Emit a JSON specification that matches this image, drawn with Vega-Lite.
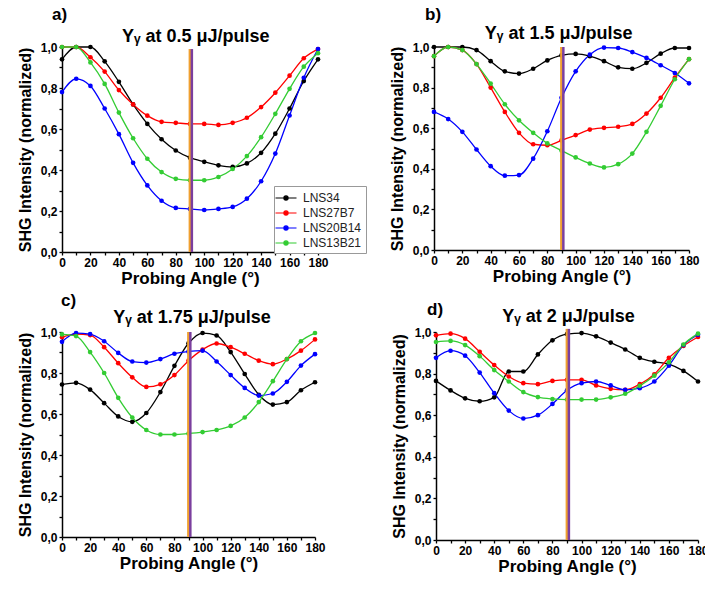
{
  "$schema": "https://vega.github.io/schema/vega-lite/v6.json",
  "background": "white",
  "padding": {"left": 17, "top": 6, "right": 5, "bottom": 5},
  "spacing": 5,
  "resolve": {"scale": {"color": "independent"}, "legend": {"color": "independent"}},
  "config": {
    "view": {"stroke": null},
    "font": "Liberation Sans",
    "axis": {"grid": false, "domainColor": "black", "domainWidth": 1.5, "tickColor": "black", "tickWidth": 1.3, "tickSize": 3, "labelFontSize": 12, "labelFontWeight": "bold", "labelColor": "black", "labelOverlap": false, "labelFlush": false, "labelPadding": 2, "titleFontSize": 16, "titleFontWeight": "bold", "titleColor": "black", "labelFont": "Liberation Sans", "titleFont": "Liberation Sans"},
    "axisY": {"labelExpr": "round(datum.value*10)%2==0 ? replace(format(datum.value,'.1f'),'.',',') : ''", "tickCount": 10, "titlePadding": 7},
    "axisX": {"tickCount": 18, "labelExpr": "round(datum.value)%20==0 ? datum.label : ''", "titleFontSize": 17, "titlePadding": 2},
    "title": {"fontSize": 17, "fontWeight": "bold", "font": "Liberation Sans", "color": "black", "anchor": "start", "frame": "group"}
  },
  "datasets": {
    "d": [
      {"p":"a","angle":0,"LNS34":0.94,"LNS27B7":1.0,"LNS20B14":0.78,"LNS13B21":1.0},
      {"p":"a","angle":10,"LNS34":1.0,"LNS27B7":1.0,"LNS20B14":0.845,"LNS13B21":1.0},
      {"p":"a","angle":20,"LNS34":1.0,"LNS27B7":0.95,"LNS20B14":0.81,"LNS13B21":0.925},
      {"p":"a","angle":30,"LNS34":0.93,"LNS27B7":0.88,"LNS20B14":0.70,"LNS13B21":0.82},
      {"p":"a","angle":40,"LNS34":0.83,"LNS27B7":0.79,"LNS20B14":0.575,"LNS13B21":0.68},
      {"p":"a","angle":50,"LNS34":0.72,"LNS27B7":0.72,"LNS20B14":0.435,"LNS13B21":0.555},
      {"p":"a","angle":60,"LNS34":0.625,"LNS27B7":0.665,"LNS20B14":0.325,"LNS13B21":0.455},
      {"p":"a","angle":70,"LNS34":0.55,"LNS27B7":0.635,"LNS20B14":0.25,"LNS13B21":0.39},
      {"p":"a","angle":80,"LNS34":0.495,"LNS27B7":0.63,"LNS20B14":0.215,"LNS13B21":0.357},
      {"p":"a","angle":90,"LNS34":0.46,"LNS27B7":0.625,"LNS20B14":0.21,"LNS13B21":0.35},
      {"p":"a","angle":100,"LNS34":0.44,"LNS27B7":0.625,"LNS20B14":0.205,"LNS13B21":0.35},
      {"p":"a","angle":110,"LNS34":0.423,"LNS27B7":0.62,"LNS20B14":0.21,"LNS13B21":0.366},
      {"p":"a","angle":120,"LNS34":0.415,"LNS27B7":0.63,"LNS20B14":0.22,"LNS13B21":0.405},
      {"p":"a","angle":130,"LNS34":0.432,"LNS27B7":0.655,"LNS20B14":0.26,"LNS13B21":0.468},
      {"p":"a","angle":140,"LNS34":0.484,"LNS27B7":0.707,"LNS20B14":0.345,"LNS13B21":0.56},
      {"p":"a","angle":150,"LNS34":0.577,"LNS27B7":0.777,"LNS20B14":0.48,"LNS13B21":0.674},
      {"p":"a","angle":160,"LNS34":0.70,"LNS27B7":0.86,"LNS20B14":0.666,"LNS13B21":0.796},
      {"p":"a","angle":170,"LNS34":0.834,"LNS27B7":0.945,"LNS20B14":0.85,"LNS13B21":0.904},
      {"p":"a","angle":180,"LNS34":0.94,"LNS27B7":0.99,"LNS20B14":0.99,"LNS13B21":0.97},
      {"p":"b","angle":0,"LNS34":1.0,"LNS27B7":0.955,"LNS20B14":0.68,"LNS13B21":0.955},
      {"p":"b","angle":10,"LNS34":1.0,"LNS27B7":1.0,"LNS20B14":0.645,"LNS13B21":1.0},
      {"p":"b","angle":20,"LNS34":1.0,"LNS27B7":0.985,"LNS20B14":0.582,"LNS13B21":0.985},
      {"p":"b","angle":30,"LNS34":0.985,"LNS27B7":0.916,"LNS20B14":0.495,"LNS13B21":0.916},
      {"p":"b","angle":40,"LNS34":0.93,"LNS27B7":0.80,"LNS20B14":0.413,"LNS13B21":0.82},
      {"p":"b","angle":50,"LNS34":0.88,"LNS27B7":0.68,"LNS20B14":0.366,"LNS13B21":0.718},
      {"p":"b","angle":60,"LNS34":0.869,"LNS27B7":0.577,"LNS20B14":0.369,"LNS13B21":0.639},
      {"p":"b","angle":70,"LNS34":0.893,"LNS27B7":0.521,"LNS20B14":0.45,"LNS13B21":0.577},
      {"p":"b","angle":80,"LNS34":0.934,"LNS27B7":0.516,"LNS20B14":0.585,"LNS13B21":0.525},
      {"p":"b","angle":90,"LNS34":0.959,"LNS27B7":0.54,"LNS20B14":0.75,"LNS13B21":0.49},
      {"p":"b","angle":100,"LNS34":0.966,"LNS27B7":0.566,"LNS20B14":0.88,"LNS13B21":0.456},
      {"p":"b","angle":110,"LNS34":0.955,"LNS27B7":0.593,"LNS20B14":0.962,"LNS13B21":0.426},
      {"p":"b","angle":120,"LNS34":0.93,"LNS27B7":0.602,"LNS20B14":0.997,"LNS13B21":0.407},
      {"p":"b","angle":130,"LNS34":0.90,"LNS27B7":0.607,"LNS20B14":0.995,"LNS13B21":0.423},
      {"p":"b","angle":140,"LNS34":0.893,"LNS27B7":0.621,"LNS20B14":0.975,"LNS13B21":0.475},
      {"p":"b","angle":150,"LNS34":0.922,"LNS27B7":0.672,"LNS20B14":0.946,"LNS13B21":0.582},
      {"p":"b","angle":160,"LNS34":0.967,"LNS27B7":0.75,"LNS20B14":0.91,"LNS13B21":0.71},
      {"p":"b","angle":170,"LNS34":0.995,"LNS27B7":0.849,"LNS20B14":0.872,"LNS13B21":0.841},
      {"p":"b","angle":180,"LNS34":0.995,"LNS27B7":0.94,"LNS20B14":0.821,"LNS13B21":0.94},
      {"p":"c","angle":0,"LNS34":0.744,"LNS27B7":0.975,"LNS20B14":0.952,"LNS13B21":0.988},
      {"p":"c","angle":10,"LNS34":0.752,"LNS27B7":0.99,"LNS20B14":0.995,"LNS13B21":0.98},
      {"p":"c","angle":20,"LNS34":0.719,"LNS27B7":0.985,"LNS20B14":0.99,"LNS13B21":0.902},
      {"p":"c","angle":30,"LNS34":0.653,"LNS27B7":0.926,"LNS20B14":0.955,"LNS13B21":0.80},
      {"p":"c","angle":40,"LNS34":0.588,"LNS27B7":0.848,"LNS20B14":0.898,"LNS13B21":0.679},
      {"p":"c","angle":50,"LNS34":0.562,"LNS27B7":0.779,"LNS20B14":0.856,"LNS13B21":0.583},
      {"p":"c","angle":60,"LNS34":0.605,"LNS27B7":0.732,"LNS20B14":0.851,"LNS13B21":0.522},
      {"p":"c","angle":70,"LNS34":0.707,"LNS27B7":0.745,"LNS20B14":0.868,"LNS13B21":0.50},
      {"p":"c","angle":80,"LNS34":0.835,"LNS27B7":0.79,"LNS20B14":0.894,"LNS13B21":0.50},
      {"p":"c","angle":90,"LNS34":0.945,"LNS27B7":0.86,"LNS20B14":0.905,"LNS13B21":0.505},
      {"p":"c","angle":100,"LNS34":0.995,"LNS27B7":0.914,"LNS20B14":0.909,"LNS13B21":0.512},
      {"p":"c","angle":110,"LNS34":0.983,"LNS27B7":0.944,"LNS20B14":0.856,"LNS13B21":0.522},
      {"p":"c","angle":120,"LNS34":0.902,"LNS27B7":0.926,"LNS20B14":0.79,"LNS13B21":0.542},
      {"p":"c","angle":130,"LNS34":0.795,"LNS27B7":0.894,"LNS20B14":0.727,"LNS13B21":0.583},
      {"p":"c","angle":140,"LNS34":0.694,"LNS27B7":0.86,"LNS20B14":0.69,"LNS13B21":0.658},
      {"p":"c","angle":150,"LNS34":0.646,"LNS27B7":0.843,"LNS20B14":0.70,"LNS13B21":0.76},
      {"p":"c","angle":160,"LNS34":0.658,"LNS27B7":0.868,"LNS20B14":0.757,"LNS13B21":0.868},
      {"p":"c","angle":170,"LNS34":0.716,"LNS27B7":0.909,"LNS20B14":0.836,"LNS13B21":0.955},
      {"p":"c","angle":180,"LNS34":0.755,"LNS27B7":0.964,"LNS20B14":0.892,"LNS13B21":0.995},
      {"p":"d","angle":0,"LNS34":0.765,"LNS27B7":0.984,"LNS20B14":0.876,"LNS13B21":0.952},
      {"p":"d","angle":10,"LNS34":0.719,"LNS27B7":0.992,"LNS20B14":0.91,"LNS13B21":0.957},
      {"p":"d","angle":20,"LNS34":0.681,"LNS27B7":0.968,"LNS20B14":0.886,"LNS13B21":0.937},
      {"p":"d","angle":30,"LNS34":0.667,"LNS27B7":0.905,"LNS20B14":0.805,"LNS13B21":0.884},
      {"p":"d","angle":40,"LNS34":0.686,"LNS27B7":0.841,"LNS20B14":0.706,"LNS13B21":0.817},
      {"p":"d","angle":50,"LNS34":0.81,"LNS27B7":0.786,"LNS20B14":0.622,"LNS13B21":0.762},
      {"p":"d","angle":60,"LNS34":0.81,"LNS27B7":0.754,"LNS20B14":0.584,"LNS13B21":0.711},
      {"p":"d","angle":70,"LNS34":0.892,"LNS27B7":0.749,"LNS20B14":0.60,"LNS13B21":0.687},
      {"p":"d","angle":80,"LNS34":0.96,"LNS27B7":0.765,"LNS20B14":0.654,"LNS13B21":0.678},
      {"p":"d","angle":90,"LNS34":0.99,"LNS27B7":0.77,"LNS20B14":0.72,"LNS13B21":0.675},
      {"p":"d","angle":100,"LNS34":0.995,"LNS27B7":0.77,"LNS20B14":0.754,"LNS13B21":0.675},
      {"p":"d","angle":110,"LNS34":0.979,"LNS27B7":0.743,"LNS20B14":0.762,"LNS13B21":0.675},
      {"p":"d","angle":120,"LNS34":0.949,"LNS27B7":0.727,"LNS20B14":0.743,"LNS13B21":0.686},
      {"p":"d","angle":130,"LNS34":0.916,"LNS27B7":0.722,"LNS20B14":0.722,"LNS13B21":0.703},
      {"p":"d","angle":140,"LNS34":0.876,"LNS27B7":0.749,"LNS20B14":0.73,"LNS13B21":0.741},
      {"p":"d","angle":150,"LNS34":0.857,"LNS27B7":0.797,"LNS20B14":0.762,"LNS13B21":0.79},
      {"p":"d","angle":160,"LNS34":0.846,"LNS27B7":0.876,"LNS20B14":0.838,"LNS13B21":0.854},
      {"p":"d","angle":170,"LNS34":0.813,"LNS27B7":0.933,"LNS20B14":0.937,"LNS13B21":0.94},
      {"p":"d","angle":180,"LNS34":0.762,"LNS27B7":0.976,"LNS20B14":0.987,"LNS13B21":0.992}
    ]
  },
  "vconcat": [
    {
      "hconcat": [
        {
          "width": 256, "height": 205,
          "title": {"text": "a)", "dx": -10, "offset": 4},
          "layer": [
            {
              "data": {"name": "d"},
              "transform": [{"filter": "datum.p == 'a'"}, {"fold": ["LNS34","LNS27B7","LNS20B14","LNS13B21"], "as": ["series","value"]}],
              "mark": {"type": "line", "interpolate": "monotone", "strokeWidth": 1.3},
              "encoding": {
                "x": {"field": "angle", "type": "quantitative", "scale": {"domain": [0,180], "nice": false}, "title": "Probing Angle (°)"},
                "y": {"field": "value", "type": "quantitative", "scale": {"domain": [0,1], "nice": false}, "title": "SHG Intensity (normalized)"},
                "color": {"field": "series", "type": "nominal", "sort": null, "scale": {"domain": ["LNS34","LNS27B7","LNS20B14","LNS13B21"], "range": ["#000000","#FF0000","#0000FF","#33CC33"]},
                  "legend": {"orient": "none", "legendX": 212, "legendY": 139, "title": null, "fillColor": "white", "strokeColor": "#999999", "padding": 4, "labelFontSize": 12, "labelFont": "Liberation Sans", "labelColor": "#222222", "symbolType": "M-1.5,0H1.5M0.3,0A0.3,0.3 0 1,1 -0.3,0A0.3,0.3 0 1,1 0.3,0Z", "symbolSize": 196, "symbolStrokeWidth": 1.2, "labelOffset": 9, "rowPadding": 1}}
              }
            },
            {
              "data": {"name": "d"},
              "transform": [{"filter": "datum.p == 'a'"}, {"fold": ["LNS34","LNS27B7","LNS20B14","LNS13B21"], "as": ["series","value"]}],
              "mark": {"type": "point", "filled": true, "size": 22, "opacity": 1},
              "encoding": {
                "x": {"field": "angle", "type": "quantitative", "scale": {"domain": [0,180], "nice": false}, "title": "Probing Angle (°)"},
                "y": {"field": "value", "type": "quantitative", "scale": {"domain": [0,1], "nice": false}, "title": "SHG Intensity (normalized)"},
                "color": {"field": "series", "type": "nominal", "sort": null, "scale": {"domain": ["LNS34","LNS27B7","LNS20B14","LNS13B21"], "range": ["#000000","#FF0000","#0000FF","#33CC33"]},
                  "legend": {"orient": "none", "legendX": 212, "legendY": 139, "title": null, "fillColor": "white", "strokeColor": "#999999", "padding": 4, "labelFontSize": 12, "labelFont": "Liberation Sans", "labelColor": "#222222", "symbolType": "M-1.5,0H1.5M0.3,0A0.3,0.3 0 1,1 -0.3,0A0.3,0.3 0 1,1 0.3,0Z", "symbolSize": 196, "symbolStrokeWidth": 1.2, "labelOffset": 9, "rowPadding": 1}}
              }
            },
            {
              "data": {"values": [{}]},
              "mark": {"type": "rule", "color": "#F0A030", "strokeWidth": 2.5},
              "encoding": {"x": {"datum": 89.9, "scale": {"domain": [0,180], "nice": false}, "title": "Probing Angle (°)"}, "y": {"datum": 0, "scale": {"domain": [0,1], "nice": false}, "title": "SHG Intensity (normalized)"}, "y2": {"datum": 0.99}}
            },
            {
              "data": {"values": [{}]},
              "mark": {"type": "rule", "color": "#7B3F9E", "strokeWidth": 2.5},
              "encoding": {"x": {"datum": 91.3, "scale": {"domain": [0,180], "nice": false}, "title": "Probing Angle (°)"}, "y": {"datum": 0, "scale": {"domain": [0,1], "nice": false}, "title": "SHG Intensity (normalized)"}, "y2": {"datum": 0.99}}
            },
            {
              "data": {"values": [{"label": "Yᵧ at 0.5 μJ/pulse"}]},
              "mark": {"type": "text", "align": "center", "baseline": "alphabetic", "fontSize": 18, "fontWeight": "bold", "font": "Liberation Sans", "color": "black"},
              "encoding": {"text": {"field": "label"}, "x": {"datum": 94, "scale": {"domain": [0,180], "nice": false}, "title": "Probing Angle (°)"}, "y": {"datum": 1.024, "scale": {"domain": [0,1], "nice": false}, "title": "SHG Intensity (normalized)"}}
            }
          ]
        },
        {
          "width": 255, "height": 203,
          "title": {"text": "b)", "dx": -9, "offset": 1},
          "layer": [
            {
              "data": {"name": "d"},
              "transform": [{"filter": "datum.p == 'b'"}, {"fold": ["LNS34","LNS27B7","LNS20B14","LNS13B21"], "as": ["series","value"]}],
              "mark": {"type": "line", "interpolate": "monotone", "strokeWidth": 1.3},
              "encoding": {
                "x": {"field": "angle", "type": "quantitative", "scale": {"domain": [0,180], "nice": false}, "title": "Probing Angle (°)"},
                "y": {"field": "value", "type": "quantitative", "scale": {"domain": [0,1], "nice": false}, "title": "SHG Intensity (normalized)"},
                "color": {"field": "series", "type": "nominal", "sort": null, "scale": {"domain": ["LNS34","LNS27B7","LNS20B14","LNS13B21"], "range": ["#000000","#FF0000","#0000FF","#33CC33"]}, "legend": null}
              }
            },
            {
              "data": {"name": "d"},
              "transform": [{"filter": "datum.p == 'b'"}, {"fold": ["LNS34","LNS27B7","LNS20B14","LNS13B21"], "as": ["series","value"]}],
              "mark": {"type": "point", "filled": true, "size": 22, "opacity": 1},
              "encoding": {
                "x": {"field": "angle", "type": "quantitative", "scale": {"domain": [0,180], "nice": false}, "title": "Probing Angle (°)"},
                "y": {"field": "value", "type": "quantitative", "scale": {"domain": [0,1], "nice": false}, "title": "SHG Intensity (normalized)"},
                "color": {"field": "series", "type": "nominal", "sort": null, "scale": {"domain": ["LNS34","LNS27B7","LNS20B14","LNS13B21"], "range": ["#000000","#FF0000","#0000FF","#33CC33"]}, "legend": null}
              }
            },
            {
              "data": {"values": [{}]},
              "mark": {"type": "rule", "color": "#F0A030", "strokeWidth": 2.5},
              "encoding": {"x": {"datum": 89.9, "scale": {"domain": [0,180], "nice": false}, "title": "Probing Angle (°)"}, "y": {"datum": 0, "scale": {"domain": [0,1], "nice": false}, "title": "SHG Intensity (normalized)"}, "y2": {"datum": 1.0}}
            },
            {
              "data": {"values": [{}]},
              "mark": {"type": "rule", "color": "#7B3F9E", "strokeWidth": 2.5},
              "encoding": {"x": {"datum": 91.3, "scale": {"domain": [0,180], "nice": false}, "title": "Probing Angle (°)"}, "y": {"datum": 0, "scale": {"domain": [0,1], "nice": false}, "title": "SHG Intensity (normalized)"}, "y2": {"datum": 1.0}}
            },
            {
              "data": {"values": [{"label": "Yᵧ at 1.5 μJ/pulse"}]},
              "mark": {"type": "text", "align": "center", "baseline": "alphabetic", "fontSize": 18, "fontWeight": "bold", "font": "Liberation Sans", "color": "black"},
              "encoding": {"text": {"field": "label"}, "x": {"datum": 88, "scale": {"domain": [0,180], "nice": false}, "title": "Probing Angle (°)"}, "y": {"datum": 1.037, "scale": {"domain": [0,1], "nice": false}, "title": "SHG Intensity (normalized)"}}
            }
          ]
        }
      ],
      "spacing": 22,
      "resolve": {"scale": {"color": "independent"}, "legend": {"color": "independent"}}
    },
    {
      "hconcat": [
        {
          "width": 253, "height": 205,
          "title": {"text": "c)", "dx": -1, "offset": -1},
          "layer": [
            {
              "data": {"name": "d"},
              "transform": [{"filter": "datum.p == 'c'"}, {"fold": ["LNS34","LNS27B7","LNS20B14","LNS13B21"], "as": ["series","value"]}],
              "mark": {"type": "line", "interpolate": "monotone", "strokeWidth": 1.3},
              "encoding": {
                "x": {"field": "angle", "type": "quantitative", "scale": {"domain": [0,180], "nice": false}, "title": "Probing Angle (°)"},
                "y": {"field": "value", "type": "quantitative", "scale": {"domain": [0,1], "nice": false}, "title": "SHG Intensity (normalized)"},
                "color": {"field": "series", "type": "nominal", "sort": null, "scale": {"domain": ["LNS34","LNS27B7","LNS20B14","LNS13B21"], "range": ["#000000","#FF0000","#0000FF","#33CC33"]}, "legend": null}
              }
            },
            {
              "data": {"name": "d"},
              "transform": [{"filter": "datum.p == 'c'"}, {"fold": ["LNS34","LNS27B7","LNS20B14","LNS13B21"], "as": ["series","value"]}],
              "mark": {"type": "point", "filled": true, "size": 22, "opacity": 1},
              "encoding": {
                "x": {"field": "angle", "type": "quantitative", "scale": {"domain": [0,180], "nice": false}, "title": "Probing Angle (°)"},
                "y": {"field": "value", "type": "quantitative", "scale": {"domain": [0,1], "nice": false}, "title": "SHG Intensity (normalized)"},
                "color": {"field": "series", "type": "nominal", "sort": null, "scale": {"domain": ["LNS34","LNS27B7","LNS20B14","LNS13B21"], "range": ["#000000","#FF0000","#0000FF","#33CC33"]}, "legend": null}
              }
            },
            {
              "data": {"values": [{}]},
              "mark": {"type": "rule", "color": "#F0A030", "strokeWidth": 2.5},
              "encoding": {"x": {"datum": 89.9, "scale": {"domain": [0,180], "nice": false}, "title": "Probing Angle (°)"}, "y": {"datum": 0, "scale": {"domain": [0,1], "nice": false}, "title": "SHG Intensity (normalized)"}, "y2": {"datum": 1.0}}
            },
            {
              "data": {"values": [{}]},
              "mark": {"type": "rule", "color": "#7B3F9E", "strokeWidth": 2.5},
              "encoding": {"x": {"datum": 91.3, "scale": {"domain": [0,180], "nice": false}, "title": "Probing Angle (°)"}, "y": {"datum": 0, "scale": {"domain": [0,1], "nice": false}, "title": "SHG Intensity (normalized)"}, "y2": {"datum": 1.0}}
            },
            {
              "data": {"values": [{"label": "Yᵧ at 1.75 μJ/pulse"}]},
              "mark": {"type": "text", "align": "center", "baseline": "alphabetic", "fontSize": 18, "fontWeight": "bold", "font": "Liberation Sans", "color": "black"},
              "encoding": {"text": {"field": "label"}, "x": {"datum": 92.5, "scale": {"domain": [0,180], "nice": false}, "title": "Probing Angle (°)"}, "y": {"datum": 1.045, "scale": {"domain": [0,1], "nice": false}, "title": "SHG Intensity (normalized)"}}
            }
          ]
        },
        {
          "width": 262, "height": 208,
          "title": {"text": "d)", "dx": -9, "offset": -11},
          "layer": [
            {
              "data": {"name": "d"},
              "transform": [{"filter": "datum.p == 'd'"}, {"fold": ["LNS34","LNS27B7","LNS20B14","LNS13B21"], "as": ["series","value"]}],
              "mark": {"type": "line", "interpolate": "monotone", "strokeWidth": 1.3},
              "encoding": {
                "x": {"field": "angle", "type": "quantitative", "scale": {"domain": [0,180], "nice": false}, "title": "Probing Angle (°)"},
                "y": {"field": "value", "type": "quantitative", "scale": {"domain": [0,1], "nice": false}, "title": "SHG Intensity (normalized)"},
                "color": {"field": "series", "type": "nominal", "sort": null, "scale": {"domain": ["LNS34","LNS27B7","LNS20B14","LNS13B21"], "range": ["#000000","#FF0000","#0000FF","#33CC33"]}, "legend": null}
              }
            },
            {
              "data": {"name": "d"},
              "transform": [{"filter": "datum.p == 'd'"}, {"fold": ["LNS34","LNS27B7","LNS20B14","LNS13B21"], "as": ["series","value"]}],
              "mark": {"type": "point", "filled": true, "size": 22, "opacity": 1},
              "encoding": {
                "x": {"field": "angle", "type": "quantitative", "scale": {"domain": [0,180], "nice": false}, "title": "Probing Angle (°)"},
                "y": {"field": "value", "type": "quantitative", "scale": {"domain": [0,1], "nice": false}, "title": "SHG Intensity (normalized)"},
                "color": {"field": "series", "type": "nominal", "sort": null, "scale": {"domain": ["LNS34","LNS27B7","LNS20B14","LNS13B21"], "range": ["#000000","#FF0000","#0000FF","#33CC33"]}, "legend": null}
              }
            },
            {
              "data": {"values": [{}]},
              "mark": {"type": "rule", "color": "#F0A030", "strokeWidth": 2.5},
              "encoding": {"x": {"datum": 89.9, "scale": {"domain": [0,180], "nice": false}, "title": "Probing Angle (°)"}, "y": {"datum": 0, "scale": {"domain": [0,1], "nice": false}, "title": "SHG Intensity (normalized)"}, "y2": {"datum": 1.015}}
            },
            {
              "data": {"values": [{}]},
              "mark": {"type": "rule", "color": "#7B3F9E", "strokeWidth": 2.5},
              "encoding": {"x": {"datum": 91.3, "scale": {"domain": [0,180], "nice": false}, "title": "Probing Angle (°)"}, "y": {"datum": 0, "scale": {"domain": [0,1], "nice": false}, "title": "SHG Intensity (normalized)"}, "y2": {"datum": 1.015}}
            },
            {
              "data": {"values": [{"label": "Yᵧ at 2 μJ/pulse"}]},
              "mark": {"type": "text", "align": "center", "baseline": "alphabetic", "fontSize": 18, "fontWeight": "bold", "font": "Liberation Sans", "color": "black"},
              "encoding": {"text": {"field": "label"}, "x": {"datum": 91, "scale": {"domain": [0,180], "nice": false}, "title": "Probing Angle (°)"}, "y": {"datum": 1.048, "scale": {"domain": [0,1], "nice": false}, "title": "SHG Intensity (normalized)"}}
            }
          ]
        }
      ],
      "spacing": 65,
      "resolve": {"scale": {"color": "independent"}, "legend": {"color": "independent"}}
    }
  ]
}
